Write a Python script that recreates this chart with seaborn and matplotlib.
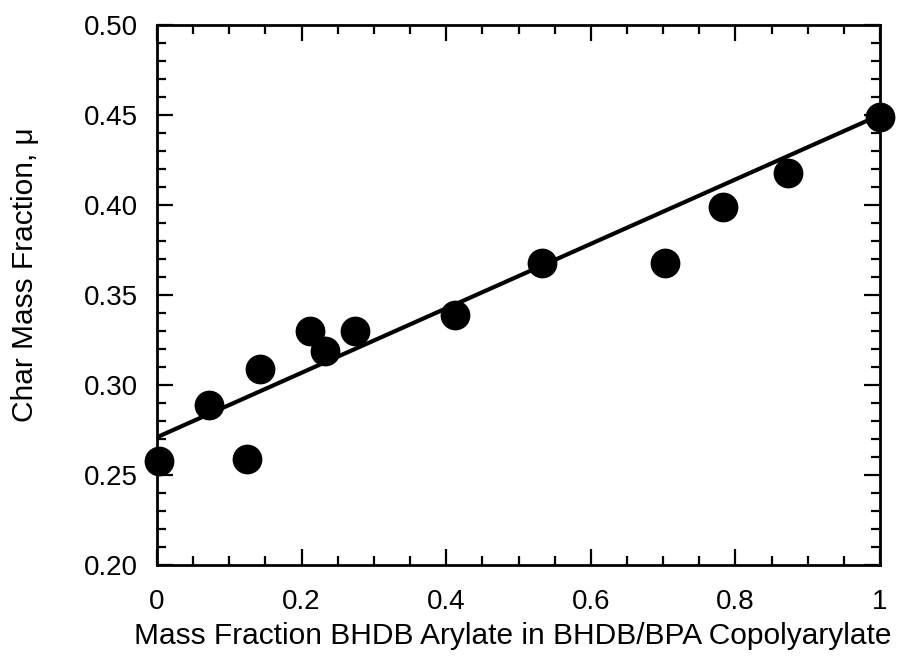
import numpy as np
import pandas as pd
import matplotlib
matplotlib.use("Agg")
import matplotlib.pyplot as plt
import seaborn as sns
from matplotlib.ticker import MultipleLocator

# Data
bhdb_fraction = [0.003, 0.072, 0.124, 0.142, 0.212, 0.232, 0.274, 0.412, 0.533, 0.703, 0.783, 0.873, 1.0]
char_fraction = [0.258, 0.289, 0.259, 0.309, 0.330, 0.319, 0.330, 0.339, 0.368, 0.368, 0.399, 0.418, 0.449]

# Linear fit line endpoints
fit_x = [0.0, 1.0]
fit_y = [0.271, 0.450]

points = pd.DataFrame({"x": bhdb_fraction, "y": char_fraction})
fit = pd.DataFrame({"x": fit_x, "y": fit_y})

sns.set_style("ticks")
plt.rcParams['font.family'] = ['Liberation Sans', 'DejaVu Sans']

fig = plt.figure(figsize=(8.99, 6.64), dpi=100)
ax = fig.add_axes([157 / 899, 1 - 565 / 664, 723 / 899, 540 / 664])

sns.lineplot(data=fit, x="x", y="y", ax=ax, color="black", linewidth=3.0)
sns.scatterplot(data=points, x="x", y="y", ax=ax, color="black", s=460,
                edgecolor="black", linewidth=0, zorder=3, clip_on=False)

ax.set_xlim(0, 1)
ax.set_ylim(0.20, 0.50)
ax.xaxis.set_major_locator(MultipleLocator(0.2))
ax.xaxis.set_minor_locator(MultipleLocator(0.05))
ax.yaxis.set_major_locator(MultipleLocator(0.05))
ax.yaxis.set_minor_locator(MultipleLocator(0.01))
ax.set_xticks([0, 0.2, 0.4, 0.6, 0.8, 1.0])
ax.set_xticklabels(["0", "0.2", "0.4", "0.6", "0.8", "1"])
ax.set_yticks([0.20, 0.25, 0.30, 0.35, 0.40, 0.45, 0.50])
ax.set_yticklabels(["0.20", "0.25", "0.30", "0.35", "0.40", "0.45", "0.50"])

ax.tick_params(which="both", direction="in", top=True, right=True, width=1.6, colors="black")
ax.tick_params(which="major", length=11.5, labelsize=20)
ax.tick_params(axis="x", which="major", pad=17)
ax.tick_params(axis="y", which="major", pad=14)
ax.tick_params(which="minor", length=6.5)
for sp in ax.spines.values():
    sp.set_linewidth(2.0)
    sp.set_color("black")

ax.set_xlabel("Mass Fraction BHDB Arylate in BHDB/BPA Copolyarylate", fontsize=21.5, color="black")
ax.set_ylabel("Char Mass Fraction, μ", fontsize=21.5, color="black")
ax.xaxis.set_label_coords(0.492, -0.106)
ax.yaxis.set_label_coords(-0.163, 0.537)

fig.savefig("out.png", dpi=100)
